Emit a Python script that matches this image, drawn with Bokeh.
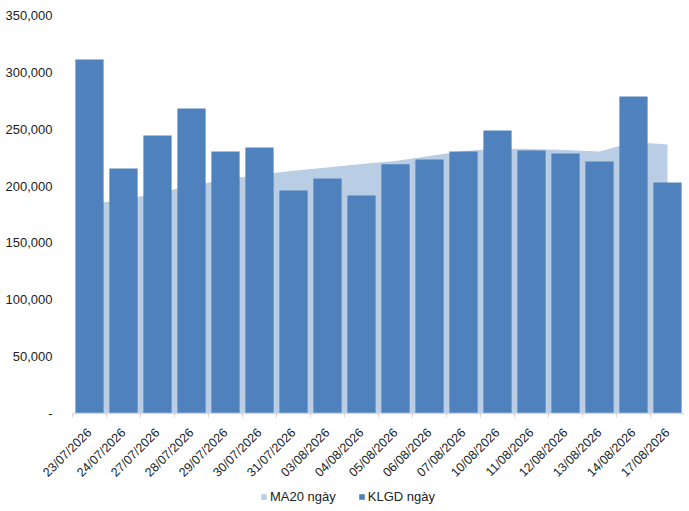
from bokeh.plotting import figure
from bokeh.models import Range1d, FixedTicker, NumeralTickFormatter, Legend, LegendItem, ColumnDataSource
from bokeh.embed import file_html
from bokeh.resources import INLINE
import math

dates = ["23/07/2026", "24/07/2026", "27/07/2026", "28/07/2026", "29/07/2026", "30/07/2026",
         "31/07/2026", "03/08/2026", "04/08/2026", "05/08/2026", "06/08/2026", "07/08/2026",
         "10/08/2026", "11/08/2026", "12/08/2026", "13/08/2026", "14/08/2026", "17/08/2026"]
klgd = [311300, 215500, 244500, 268200, 230400, 233900, 196100, 206700, 191700,
        219200, 223400, 230400, 248900, 231300, 228600, 221600, 278800, 203100]
ma20 = [184500, 187700, 194100, 200300, 205800, 210200, 213400, 216300, 219400,
        222000, 226400, 230800, 232800, 232600, 231700, 230400, 238800, 236600]
y_ticks = [0, 50000, 100000, 150000, 200000, 250000, 300000, 350000]

n = len(dates)
xs = [i + 0.5 for i in range(n)]
src = ColumnDataSource(dict(x=xs, klgd=klgd, ma=ma20, zero=[0] * n))

# layout in pixels: plot area spans x 72..684, value 0 at y 413, 350,000 at y 15
W, H = 684, 508
LEFT, TOP, ZERO_Y = 72, 15, 413
ymax = 350000
px_y = (ZERO_Y - TOP) / ymax
px_x = (W - LEFT) / n
x_range = Range1d(-LEFT / px_x, n)
y_range = Range1d(-(H - ZERO_Y) / px_y, ymax + TOP / px_y)

p = figure(width=W, height=H, output_backend="svg", toolbar_location=None,
           x_range=x_range, y_range=y_range,
           min_border=0)
p.outline_line_color = None
p.background_fill_color = "white"
p.border_fill_color = "white"
p.xgrid.visible = False
p.ygrid.visible = False

area = p.varea(x="x", y1="zero", y2="ma", source=src, fill_color="#B9CDE5")
bars = p.vbar(x="x", top="klgd", width=0.83, source=src, fill_color="#4F81BD", line_color=None)

# x axis, pinned at value 0
xa = p.xaxis[0]
xa.fixed_location = 0
xa.bounds = (0, n)
xa.ticker = FixedTicker(ticks=xs, minor_ticks=list(range(n + 1)))
xa.major_label_overrides = {x: d for x, d in zip(xs, dates)}
xa.major_label_orientation = math.pi / 4
xa.major_tick_out = 0
xa.major_tick_in = 0
xa.minor_tick_out = 4
xa.minor_tick_in = 0
xa.minor_tick_line_color = "#D9D9D9"
xa.axis_line_color = "#D9D9D9"
xa.axis_line_width = 1.5
xa.major_label_text_font = "Liberation Sans"
xa.major_label_text_font_size = "12.5px"
xa.major_label_text_color = "#222222"
xa.major_label_standoff = 13

# y axis, pinned at the left edge of the bars area
ya = p.yaxis[0]
ya.fixed_location = 0
ya.bounds = (0, ymax)
ya.ticker = FixedTicker(ticks=y_ticks)
ya.formatter = NumeralTickFormatter(format="0,0")
ya.major_label_overrides = {0: "-"}
ya.axis_line_color = None
ya.major_tick_line_color = None
ya.minor_tick_line_color = None
ya.major_label_standoff = 14
ya.major_label_text_font = "Liberation Sans"
ya.major_label_text_font_size = "13px"
ya.major_label_text_color = "#222222"

legend = Legend(items=[LegendItem(label="MA20 ngày", renderers=[area]),
                       LegendItem(label="KLGD ngày", renderers=[bars])],
                location=(260, 4), orientation="horizontal",
                glyph_width=7, glyph_height=7, label_height=13, label_standoff=3,
                spacing=22, padding=0, margin=0,
                label_text_font="Liberation Sans", label_text_font_size="13px",
                label_text_color="#222222",
                border_line_color=None, background_fill_alpha=0)
p.add_layout(legend, "center")

open("out.html", "w").write(file_html(p, INLINE))
